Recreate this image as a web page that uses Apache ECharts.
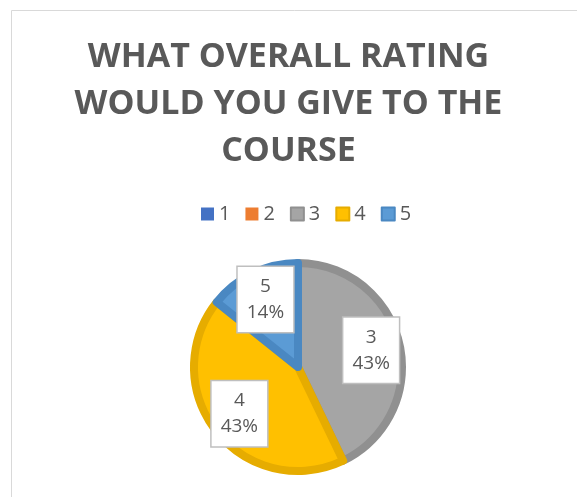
<!DOCTYPE html>
<html>
<head>
<meta charset="utf-8">
<script src="https://cdn.jsdelivr.net/npm/echarts@6/dist/echarts.min.js"></script>
<style>
html,body{margin:0;padding:0;background:#fff;}
#chart{width:577px;height:497px;}
</style>
</head>
<body>
<div id="chart"></div>
<script>
// data
const ratings = ['1', '2', '3', '4', '5'];
const counts = [0, 0, 3, 3, 1];
const fillColors = ['#4472C4', '#ED7D31', '#A5A5A5', '#FFC000', '#5B9BD5'];
const edgeColors = ['#3a63ad', '#d06b28', '#909090', '#e6ac00', '#4a88c2'];

const chart = echarts.init(document.getElementById('chart'));

const sliceData = ratings.map((r, i) => ({
  name: r,
  value: counts[i],
  itemStyle: {
    color: fillColors[i],
    borderColor: edgeColors[i],
    borderWidth: counts[i] ? 8 : 0
  }
}));

// second, see-through pie only for placing the labels further out
const labelData = ratings.map((r, i) => ({
  name: r,
  value: counts[i],
  label: {show: counts[i] > 0}
}));

chart.setOption({
  animation: false,
  title: {
    text: 'WHAT OVERALL RATING\nWOULD YOU GIVE TO THE\nCOURSE',
    left: 'center',
    top: 29,
    textStyle: {
      color: '#595959',
      fontFamily: 'Open Sans',
      fontWeight: 'bold',
      fontSize: 34,
      lineHeight: 47
    }
  },
  legend: {
    top: 199,
    left: 196,
    itemWidth: 13,
    itemHeight: 13,
    itemGap: 15,
    icon: 'rect',
    textStyle: {color: '#595959', fontSize: 20, fontFamily: 'Open Sans'},
    data: ratings
  },
  graphic: [{
    type: 'rect',
    shape: {x: 11.5, y: 10.5, width: 600, height: 520},
    style: {fill: 'none', stroke: '#d9d9d9', lineWidth: 1},
    silent: true
  }],
  series: [
    {
      type: 'pie',
      center: [298, 367],
      radius: 104,
      startAngle: 90,
      clockwise: true,
      label: {show: false},
      labelLine: {show: false},
      emphasis: {disabled: true},
      data: sliceData
    },
    {
      type: 'pie',
      center: [298, 367],
      radius: [38, 106],
      startAngle: 90,
      clockwise: true,
      silent: true,
      itemStyle: {color: 'transparent'},
      labelLine: {show: false},
      label: {
        position: 'inside',
        formatter: p => p.name + '\n' + Math.round(p.percent) + '%',
        color: '#595959',
        fontFamily: 'Open Sans',
        fontSize: 19,
        lineHeight: 26,
        backgroundColor: '#fff',
        borderColor: '#bfbfbf',
        borderWidth: 1.5,
        padding: [7, 9, 6, 9]
      },
      data: labelData
    }
  ]
});
</script>
</body>
</html>
